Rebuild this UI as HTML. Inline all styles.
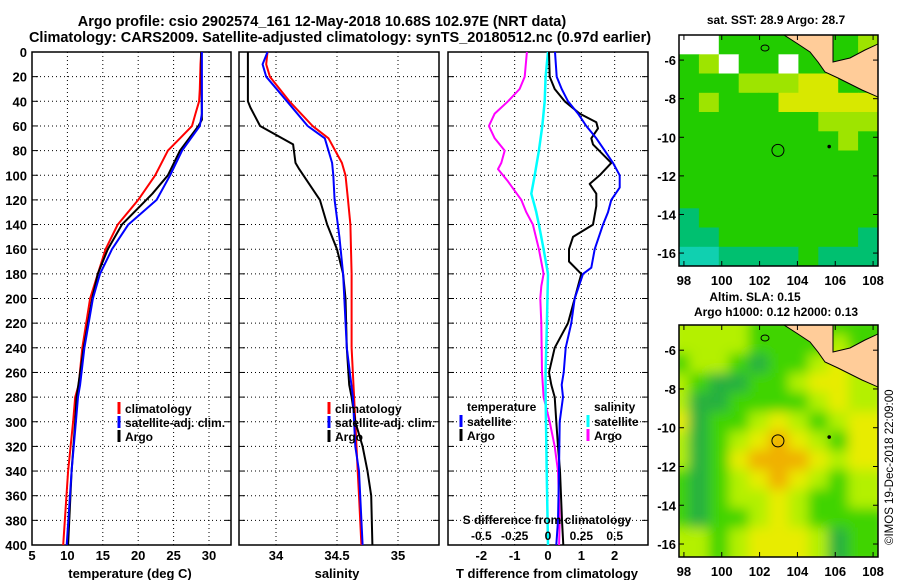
<!DOCTYPE html>
<html><head><meta charset="utf-8">
<style>
html,body{margin:0;padding:0;background:#fff;}
svg{display:block;font-family:"Liberation Sans",Arial,sans-serif;font-weight:bold;}
</style></head>
<body>
<svg id="fig" width="900" height="580" viewBox="0 0 900 580" xmlns="http://www.w3.org/2000/svg">
<text x="322" y="26" font-size="14.5" text-anchor="middle">Argo profile: csio 2902574_161 12-May-2018 10.68S 102.97E (NRT data)</text>
<text x="340" y="42" font-size="14.5" text-anchor="middle">Climatology: CARS2009. Satellite-adjusted climatology: synTS_20180512.nc (0.97d earlier)</text>
<g id="p1"></g>
<g id="p2"></g>
<g id="p3"></g>
<g id="m1"></g>
<g id="m2"></g>
<text x="776" y="24" font-size="12" text-anchor="middle">sat. SST: 28.9 Argo: 28.7</text>
<text x="755" y="301" font-size="12" text-anchor="middle">Altim. SLA: 0.15</text>
<text x="776" y="316" font-size="12" text-anchor="middle">Argo h1000: 0.12 h2000: 0.13</text>
<text transform="translate(893,545) rotate(-90)" font-size="11.5" font-weight="normal">©IMOS 19-Dec-2018 22:09:00</text>
</svg>
<script>
// ---------- data ----------
const depthTicks=[0,20,40,60,80,100,120,140,160,180,200,220,240,260,280,300,320,340,360,380,400];
const tempTicks=[5,10,15,20,25,30];
const salTicks=[34,34.5,35];
const tdiffTicks=[-2,-1,0,1,2];
const sdiffTicks=[-0.5,-0.25,0,0.25,0.5];
const sdiffTickLabels=["-0.5","-0.25","0","0.25","0.5"];

const tClimDepth=[0,10,30,40,50,60,70,80,100,120,140,160,180,200,240,270,280,300,340,400];
const tClimVal=[28.9,28.8,28.7,28.6,28.1,27.6,25.9,24.2,22.4,20.0,17.1,15.4,14.3,13.2,12.1,11.6,11.1,10.8,10.1,9.4];
const tSatDepth=[0,50,60,80,100,120,140,160,180,200,240,270,280,300,340,400];
const tSatVal=[29.0,29.0,28.7,26.2,24.5,22.6,18.6,16.3,14.6,13.6,12.4,11.8,11.5,11.2,10.6,9.9];
const tArgoDepth=[0,55,60,80,100,115,140,160,180,200,240,280,300,340,400];
const tArgoVal=[28.9,29.0,28.5,25.9,24.2,22.0,17.7,15.7,14.3,13.5,12.3,11.3,11.1,10.6,10.1];

const sClimDepth=[0,10,20,40,60,70,90,100,120,140,180,240,280,300,320,340,360,400];
const sClimVal=[33.93,33.92,33.95,34.11,34.30,34.43,34.54,34.57,34.59,34.61,34.62,34.62,34.64,34.65,34.66,34.67,34.68,34.70];
const sSatDepth=[0,10,20,40,60,70,90,100,120,150,180,240,280,300,320,340,360,400];
const sSatVal=[33.93,33.89,33.92,34.09,34.26,34.40,34.46,34.47,34.48,34.52,34.55,34.58,34.63,34.64,34.65,34.68,34.69,34.71];
const sArgoDepth=[0,40,45,60,75,90,95,120,140,160,180,200,240,270,280,300,320,340,360,400];
const sArgoVal=[33.77,33.77,33.79,33.87,34.14,34.16,34.19,34.36,34.42,34.50,34.55,34.57,34.58,34.60,34.62,34.65,34.71,34.75,34.78,34.79];

const dTSatDepth=[0,20,30,40,50,60,70,80,90,100,110,120,130,140,160,175,180,200,220,240,260,270,280,300,340,380,400];
const dTSatVal=[0.21,0.26,0.41,0.6,0.9,1.15,1.45,1.7,1.95,2.15,2.15,1.9,1.8,1.65,1.4,1.3,1.05,0.8,0.7,0.53,0.47,0.41,0.45,0.35,0.33,0.3,0.25];
const dTArgoDepth=[0,20,30,40,50,57,62,70,75,90,100,107,115,125,140,150,160,170,180,200,220,240,260,270,280,300,320,340,380,400];
const dTArgoVal=[0.03,0.05,0.2,0.5,0.95,1.45,1.5,1.3,1.35,1.9,1.55,1.25,1.45,1.45,1.35,0.75,0.63,0.63,1.0,0.8,0.6,0.2,0.03,0.1,0.2,0.25,0.3,0.36,0.42,0.46];
const dSSatDepth=[0,20,40,60,80,100,115,125,130,140,160,180,220,260,280,300,340,400];
const dSSatVal=[0,-0.018,-0.025,-0.043,-0.068,-0.1,-0.125,-0.1,-0.088,-0.068,-0.033,0,-0.008,-0.018,-0.018,-0.015,-0.01,0];
const dSArgoDepth=[0,20,30,40,50,60,70,80,90,95,105,120,130,140,160,180,190,200,220,260,280,300,320,340,380,400];
const dSArgoVal=[-0.158,-0.175,-0.213,-0.3,-0.4,-0.443,-0.4,-0.325,-0.35,-0.375,-0.3,-0.2,-0.163,-0.113,-0.068,-0.033,-0.05,-0.058,-0.05,-0.045,-0.033,0.013,0.05,0.075,0.088,0.083];

const lonTicks=[98,100,102,104,106,108];
const latTicks=[-6,-8,-10,-12,-14,-16];
const sstGrid=["WWGGGGLLLY","GYWGGWGLLY","GGGYYYyyLL","GYGGGyyyyy","GGGGGGGYYY","GGGGGGGGYG","GGGGGGGGGG","GGGGGGGGGG","GGGGGGGGGG","CGGGGGGGGG","CCGGGGGGGC","ccCCCCGCCC"];
const slaGrid=["LLLLGGGGGG","LLLLGGGGLG","GLLGDGGLYL","LGDDGGLYYL","LDDGGGGLYL","YDGGLYLGLY","LDGLYOYLGY","LDGYOOOYLY","GDGLYOYLGL","GDGLLYLGGL","GDGGLYLGGG","LLGLYYYLDG"];
const argoLon=[102.97], argoLat=[-10.68];

// ---------- helpers ----------
const NS="http://www.w3.org/2000/svg";
function mk(tag,attrs,parent){const e=document.createElementNS(NS,tag);for(const k in attrs)e.setAttribute(k,attrs[k]);parent.appendChild(e);return e;}
const Y0=52,Y1=545;
const yD=d=>Y0+d*(Y1-Y0)/400;
function lin(d0,d1,r0,r1){return v=>r0+(v-d0)*(r1-r0)/(d1-d0);}

function panel(g,x0,x1,xs,ticks,labels,showY){
  for(const t of ticks){const x=xs(t);
    const l=mk('line',{x1:x,x2:x,y1:Y0,y2:Y1,stroke:'#000','stroke-dasharray':'1,3','stroke-width':1},g);
    }
  for(const d of depthTicks){if(d==0||d==400)continue;const y=yD(d);
    const l=mk('line',{x1:x0,x2:x1,y1:y,y2:y,stroke:'#000','stroke-dasharray':'1,3','stroke-width':1},g);
    
    const t1=mk('line',{x1:x0,x2:x0+6,y1:y,y2:y,stroke:'#000'},g);
    const t2=mk('line',{x1:x1-6,x2:x1,y1:y,y2:y,stroke:'#000'},g);}
  if(showY){for(const d of depthTicks){const t=mk('text',{x:27,y:yD(d)+5,'font-size':13,'text-anchor':'end'},g);t.textContent=d;
    }}
  if(labels){ticks.forEach((v,i)=>{const t=mk('text',{x:xs(v),y:560,'font-size':13,'text-anchor':'middle'},g);t.textContent=labels[i];
    });}
  const r=mk('rect',{x:x0,y:Y0,width:x1-x0,height:Y1-Y0,fill:'none',stroke:'#000','stroke-width':1.5},g);
  
}
function series(g,xs,dep,val,color,name,w){
  const p=dep.map((d,i)=>xs(val[i]).toFixed(1)+','+yD(d).toFixed(1)).join(' ');
  const e=mk('polyline',{points:p,fill:'none',stroke:color,'stroke-width':w||2,'stroke-linejoin':'round'},g);
  
}
function legend(g,x,y,color,label){
  const l=mk('line',{x1:x,x2:x,y1:y-11,y2:y+1,stroke:color,'stroke-width':3},g);
  
  const t=mk('text',{x:x+6,y:y,'font-size':12},g);t.textContent=label;
  
}
function textAt(g,x,y,s,label,anchor,name){const t=mk('text',{x:x,y:y,'font-size':s,'text-anchor':anchor||'middle'},g);t.textContent=label;
  }

// ---------- panel 1 ----------
const p1=document.getElementById('p1');
const xT=lin(5,30,32,209);
panel(p1,32,231,xT,tempTicks,tempTicks.map(String),true);
series(p1,xT,tClimDepth,tClimVal,'#f00','temp-climatology-line');
series(p1,xT,tArgoDepth,tArgoVal,'#000','temp-argo-line');
series(p1,xT,tSatDepth,tSatVal,'#00f','temp-satellite-line');
legend(p1,119,413,'#f00','climatology');legend(p1,119,427,'#00f','satellite-adj. clim.');legend(p1,119,441,'#000','Argo');
textAt(p1,130,578,13,'temperature (deg C)','middle','x-axis-title-temperature');

// ---------- panel 2 ----------
const p2=document.getElementById('p2');
const xS=lin(34,35,276,398);
panel(p2,239,439,xS,salTicks,["34","34.5","35"],false);
series(p2,xS,sClimDepth,sClimVal,'#f00','sal-climatology-line');
series(p2,xS,sArgoDepth,sArgoVal,'#000','sal-argo-line');
series(p2,xS,sSatDepth,sSatVal,'#00f','sal-satellite-line');
legend(p2,329,413,'#f00','climatology');legend(p2,329,427,'#00f','satellite-adj. clim.');legend(p2,329,441,'#000','Argo');
textAt(p2,337,578,13,'salinity','middle','x-axis-title-salinity');

// ---------- panel 3 ----------
const p3=document.getElementById('p3');
const xDT=lin(-3,3,448,648);
const xDS=lin(-0.75,0.75,448,648);
panel(p3,448,648,xDT,tdiffTicks,tdiffTicks.map(String),false);
series(p3,xDS,dSArgoDepth,dSArgoVal,'#f0f','sal-diff-argo-line');
series(p3,xDS,dSSatDepth,dSSatVal,'#0ff','sal-diff-satellite-line',2.5);
series(p3,xDT,dTArgoDepth,dTArgoVal,'#000','temp-diff-argo-line');
series(p3,xDT,dTSatDepth,dTSatVal,'#00f','temp-diff-satellite-line');
textAt(p3,467,411,12,'temperature','start','legend-title-temperature');
legend(p3,461,426,'#00f','satellite');legend(p3,461,440,'#000','Argo');
textAt(p3,594,411,12,'salinity','start','legend-title-salinity');
legend(p3,588,426,'#0ff','satellite');legend(p3,588,440,'#f0f','Argo');
textAt(p3,547,524,12,'S difference from climatology','middle','s-axis-title');
sdiffTicks.forEach((v,i)=>textAt(p3,xDS(v),540,12,sdiffTickLabels[i],'middle','s-tick-label'));
textAt(p3,547,578,13,'T difference from climatology','middle','x-axis-title-tdiff');

// ---------- maps ----------
const MX0=679,MX1=878;
const xLon=lin(97.74,108.26,MX0,MX1);
const colors={W:'#ffffff',G:'#22cc00',Y:'#9ee400',y:'#d8e800',C:'#00c070',c:'#10d0b0',D:'#28b040',L:'#b0f000',O:'#f0b400'};
const slaColors={G:'#40d400',D:'#28b040',L:'#b4f000',Y:'#e8ec00',O:'#f0b000'};
mk('defs',{},document.getElementById('fig')).innerHTML='<filter id="blur" x="0" y="0" width="1" height="1"><feGaussianBlur stdDeviation="6"/></filter><clipPath id="c1"><rect x="679" y="35" width="199" height="231"/></clipPath><clipPath id="c2"><rect x="679" y="325" width="199" height="232"/></clipPath>';
function drawMap(g,top,bot,grid,blur,clip){
  const yLat=lin(-4.7,-16.67,top,bot);
  const inner=mk('g',{'clip-path':'url(#'+clip+')'},g);
  const cells=mk('g',blur?{filter:'url(#blur)'}:{},inner);
  const nr=grid.length,nc=grid[0].length;
  const cw=(MX1-MX0)/nc,ch=(bot-top)/nr;
  for(let r=0;r<nr;r++)for(let c=0;c<nc;c++){
    const code=grid[r][c];
    const col=blur?slaColors[code]:(code==='L'?'#22cc00':colors[code]);
    const e=mk('rect',{x:(MX0+c*cw-(blur?10:0)).toFixed(1),y:(top+r*ch-(blur?10:0)).toFixed(1),width:(cw+(blur?20:0.6)).toFixed(1),height:(ch+(blur?20:0.6)).toFixed(1),fill:col},cells);
    
  }
  const off=top-35;
  const land=mk('polygon',{points:[[784,35],[833,35],[833,62],[850,58],[865,50],[878,44],[878,97],[862,90],[848,83],[838,78],[825,72],[818,62],[810,52],[798,44]].map(p=>p[0]+','+(p[1]+off)).join(' '),fill:'#ffcc99',stroke:'#000','stroke-width':1},inner);
  
  const isl=mk('ellipse',{cx:765,cy:48+off,rx:4,ry:3,fill:'none',stroke:'#000'},inner);
  const xm=mk('circle',{cx:xLon(105.68),cy:yLat(-10.48),r:1.8,fill:'#000'},inner);
  const ac=mk('circle',{cx:xLon(argoLon[0]),cy:yLat(argoLat[0]),r:6,fill:'none',stroke:'#000','stroke-width':1},inner);
  
  const fr=mk('rect',{x:MX0,y:top,width:MX1-MX0,height:bot-top,fill:'none',stroke:'#000','stroke-width':1.5},g);
  
  for(const lo of lonTicks){const x=xLon(lo);
    mk('line',{x1:x,x2:x,y1:top,y2:top+5,stroke:'#000'},g);mk('line',{x1:x,x2:x,y1:bot-5,y2:bot,stroke:'#000'},g);
    textAt(g,x,bot+19,13,String(lo),'middle','lon-tick-label');}
  for(const la of latTicks){const y=yLat(la);
    mk('line',{x1:MX0,x2:MX0+5,y1:y,y2:y,stroke:'#000'},g);mk('line',{x1:MX1-5,x2:MX1,y1:y,y2:y,stroke:'#000'},g);
    textAt(g,MX0-3,y+5,13,String(la),'end','lat-tick-label');}
}
drawMap(document.getElementById('m1'),35,266,sstGrid,false,'c1');
drawMap(document.getElementById('m2'),325,557,slaGrid,true,'c2');
</script>
</body></html>
